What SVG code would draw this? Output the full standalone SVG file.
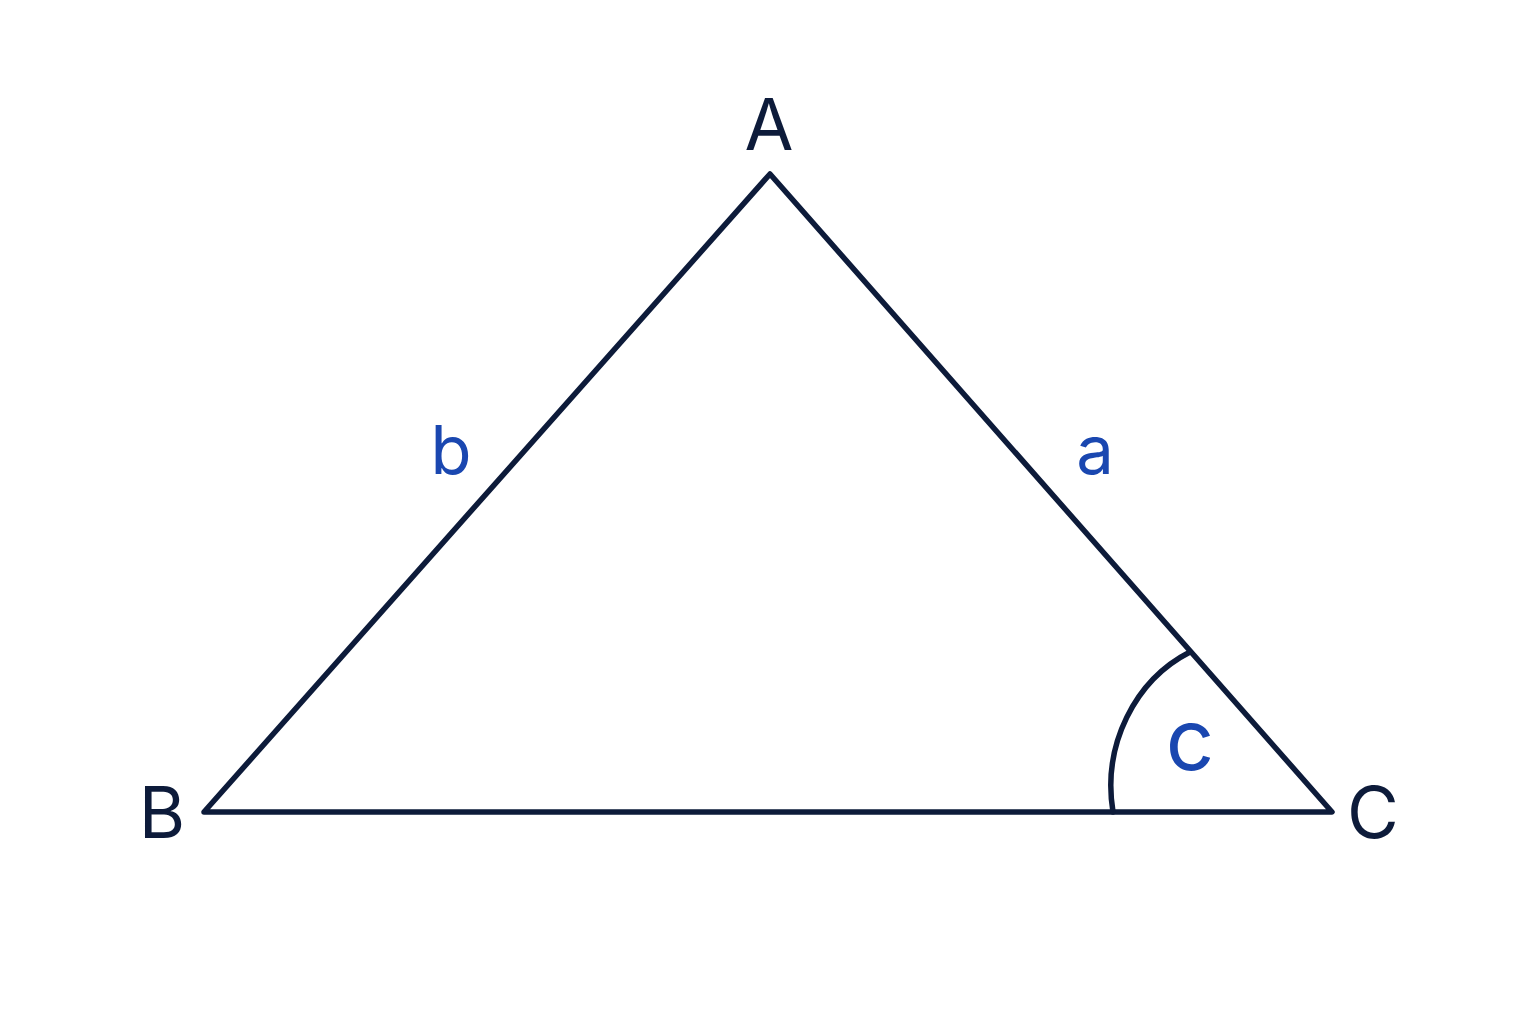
<svg xmlns="http://www.w3.org/2000/svg" width="1536" height="1024" viewBox="0 0 1536 1024">
<style>
.ln{fill:none;stroke:#0d1b3a;stroke-width:5.5;stroke-linejoin:round;stroke-linecap:round}
.v{font-family:Inter,"Liberation Sans",sans-serif;font-size:71px;font-weight:400;fill:#0d1b3a;text-anchor:middle}
.s{font-family:Inter,"Liberation Sans",sans-serif;font-size:67px;font-weight:400;fill:#1a47b0;text-anchor:middle}
</style>
<rect width="1536" height="1024" fill="#ffffff"/>
<g id="connectors">
<path class="ln" d="M770,174 L1332,812 L204,812 Z"/>
<path class="ln" d="M1113,812 C1102,745 1135,680 1190,652"/>
</g>
<g id="A"><text class="v" x="769" y="150">A</text></g>
<g id="B"><text class="v" x="162" y="838">B</text></g>
<g id="C"><text class="v" x="1373" y="838">C</text></g>
<g id="side-b"><text class="s" x="451" y="474">b</text></g>
<g id="side-a"><text class="s" x="1095" y="474">a</text></g>
<g id="angle-c"><text class="s" x="1190" y="770" style="font-size:85px">c</text></g>
</svg>
